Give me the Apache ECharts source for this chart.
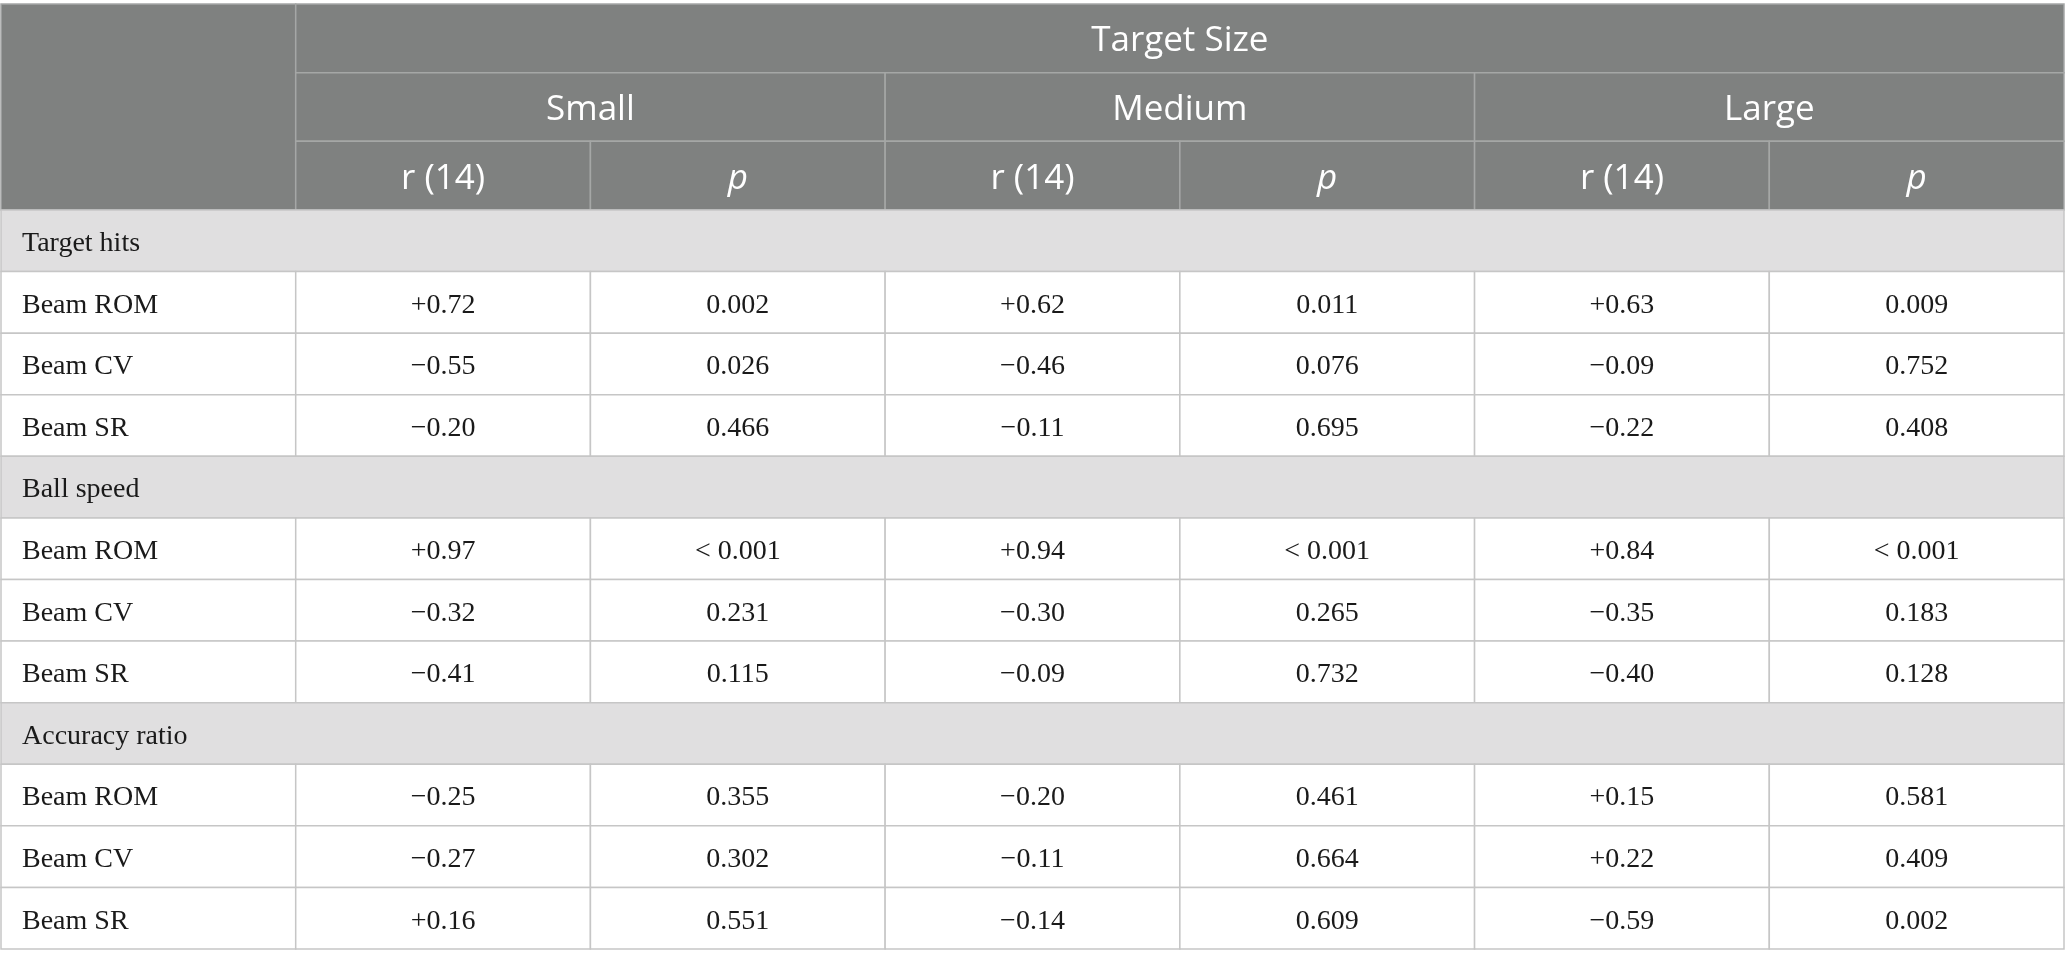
<!DOCTYPE html>
<html>
<head>
<meta charset="utf-8">
<style>
  html, body { margin: 0; padding: 0; background: #fff; }
  #table { width: 2067px; height: 969px; }
</style>
<script src="https://cdn.jsdelivr.net/npm/echarts@6/dist/echarts.min.js"></script>
</head>
<body>
<div id="table"></div>
<script>
// header labels
var headerTitle = 'Target Size';
var sizes = ['Small', 'Medium', 'Large'];
var statLabels = ['r (14)', 'p'];

// row labels
var sections = ['Target hits', 'Ball speed', 'Accuracy ratio'];
var measures = ['Beam ROM', 'Beam CV', 'Beam SR'];

// rows = measures, columns = sizes (Small, Medium, Large)
var targetHitsR = [[0.72, 0.62, 0.63], [-0.55, -0.46, -0.09], [-0.20, -0.11, -0.22]];
var targetHitsP = [['0.002', '0.011', '0.009'], ['0.026', '0.076', '0.752'], ['0.466', '0.695', '0.408']];
var ballSpeedR = [[0.97, 0.94, 0.84], [-0.32, -0.30, -0.35], [-0.41, -0.09, -0.40]];
var ballSpeedP = [['< 0.001', '< 0.001', '< 0.001'], ['0.231', '0.265', '0.183'], ['0.115', '0.732', '0.128']];
var accuracyR = [[-0.25, -0.20, 0.15], [-0.27, -0.11, 0.22], [0.16, -0.14, -0.59]];
var accuracyP = [['0.355', '0.461', '0.581'], ['0.302', '0.664', '0.409'], ['0.551', '0.609', '0.002']];

var sectionR = [targetHitsR, ballSpeedR, accuracyR];
var sectionP = [targetHitsP, ballSpeedP, accuracyP];

var HEAD_BG = '#7f8180';
var HEAD_LINE = '#a5a7a6';
var SECT_BG = '#e0dfe0';
var BODY_LINE = '#c6c6c6';
var SANS = '"Open Sans", "Noto Sans", sans-serif';
var SERIF = '"Liberation Serif", "DejaVu Serif", serif';

function fmtR(v) {
    return (v > 0 ? '+' : '\u2212') + Math.abs(v).toFixed(2);
}

var colNames = ['c0', 'c1', 'c2', 'c3', 'c4', 'c5', 'c6'];

// header cells: [col, row, colSpan, rowSpan, text, italic]
var headData = [];
headData.push([0, 0, 1, 3, '', 0]);
headData.push([1, 0, 6, 1, headerTitle, 0]);
sizes.forEach(function(s, i) {
    headData.push([1 + i * 2, 1, 2, 1, s, 0]);
    statLabels.forEach(function(l, j) {
        headData.push([1 + i * 2 + j, 2, 1, 1, l, j === 1 ? 1 : 0]);
    });
});

// body cells: [col, row, colSpan, kind, text]  kind 1 = section row
var bodyData = [];
var row = 0;
sections.forEach(function(sec, si) {
    bodyData.push([0, row, 7, 1, sec]);
    row++;
    measures.forEach(function(m, mi) {
        bodyData.push([0, row, 1, 0, m]);
        sizes.forEach(function(s, zi) {
            bodyData.push([1 + zi * 2, row, 1, 0, fmtR(sectionR[si][mi][zi])]);
            bodyData.push([2 + zi * 2, row, 1, 0, sectionP[si][mi][zi]]);
        });
        row++;
    });
});
var bodyRows = [];
for (var r = 0; r < row; r++) bodyRows.push('r' + r);

function renderHead(params, api) {
    var c = api.coord([api.value(0), api.value(1)]);
    var sz = api.size([1, 1]);
    var w = sz[0] * api.value(2), h = sz[1] * api.value(3);
    var x = c[0] - sz[0] / 2, y = c[1] - sz[1] / 2;
    return {
        type: 'group',
        children: [{
            type: 'rect',
            shape: { x: x, y: y, width: w, height: h },
            style: { fill: HEAD_BG, stroke: HEAD_LINE, lineWidth: 1.5 }
        }, {
            type: 'text',
            style: {
                text: api.value(4),
                x: x + w / 2,
                y: y + h / 2 + 3,
                fill: '#ffffff',
                font: (api.value(5) ? 'italic ' : '') + '35px ' + SANS,
                align: 'center',
                verticalAlign: 'middle'
            }
        }]
    };
}

function renderBody(params, api) {
    var c = api.coord([api.value(0), api.value(1)]);
    var sz = api.size([1, 1]);
    var span = api.value(2), kind = api.value(3);
    var w = sz[0] * span, h = sz[1];
    var x = c[0] - sz[0] / 2, y = c[1] - sz[1] / 2;
    var left = api.value(0) === 0;
    return {
        type: 'group',
        children: [{
            type: 'rect',
            shape: { x: x, y: y, width: w, height: h },
            style: { fill: kind ? SECT_BG : '#ffffff', stroke: BODY_LINE, lineWidth: 1.5 }
        }, {
            type: 'text',
            style: {
                text: api.value(4),
                x: left ? x + 21 : x + w / 2,
                y: y + h / 2 + 3,
                fill: '#1a1a1a',
                font: '28px ' + SERIF,
                align: left ? 'left' : 'center',
                verticalAlign: 'middle'
            }
        }]
    };
}

var myChart = echarts.init(document.getElementById('table'));
var option = {
    backgroundColor: '#ffffff',
    animation: false,
    grid: [
        { left: 1, right: 3, top: 4, height: 206 },
        { left: 1, right: 3, top: 210, height: 739 }
    ],
    xAxis: [
        { type: 'category', gridIndex: 0, data: colNames, show: false },
        { type: 'category', gridIndex: 1, data: colNames, show: false }
    ],
    yAxis: [
        { type: 'category', gridIndex: 0, data: ['h0', 'h1', 'h2'], inverse: true, show: false },
        { type: 'category', gridIndex: 1, data: bodyRows, inverse: true, show: false }
    ],
    series: [{
        type: 'custom',
        xAxisIndex: 0,
        yAxisIndex: 0,
        renderItem: renderHead,
        encode: { x: 0, y: 1 },
        data: headData,
        silent: true
    }, {
        type: 'custom',
        xAxisIndex: 1,
        yAxisIndex: 1,
        renderItem: renderBody,
        encode: { x: 0, y: 1 },
        data: bodyData,
        silent: true
    }]
};
myChart.setOption(option);
</script>
</body>
</html>
